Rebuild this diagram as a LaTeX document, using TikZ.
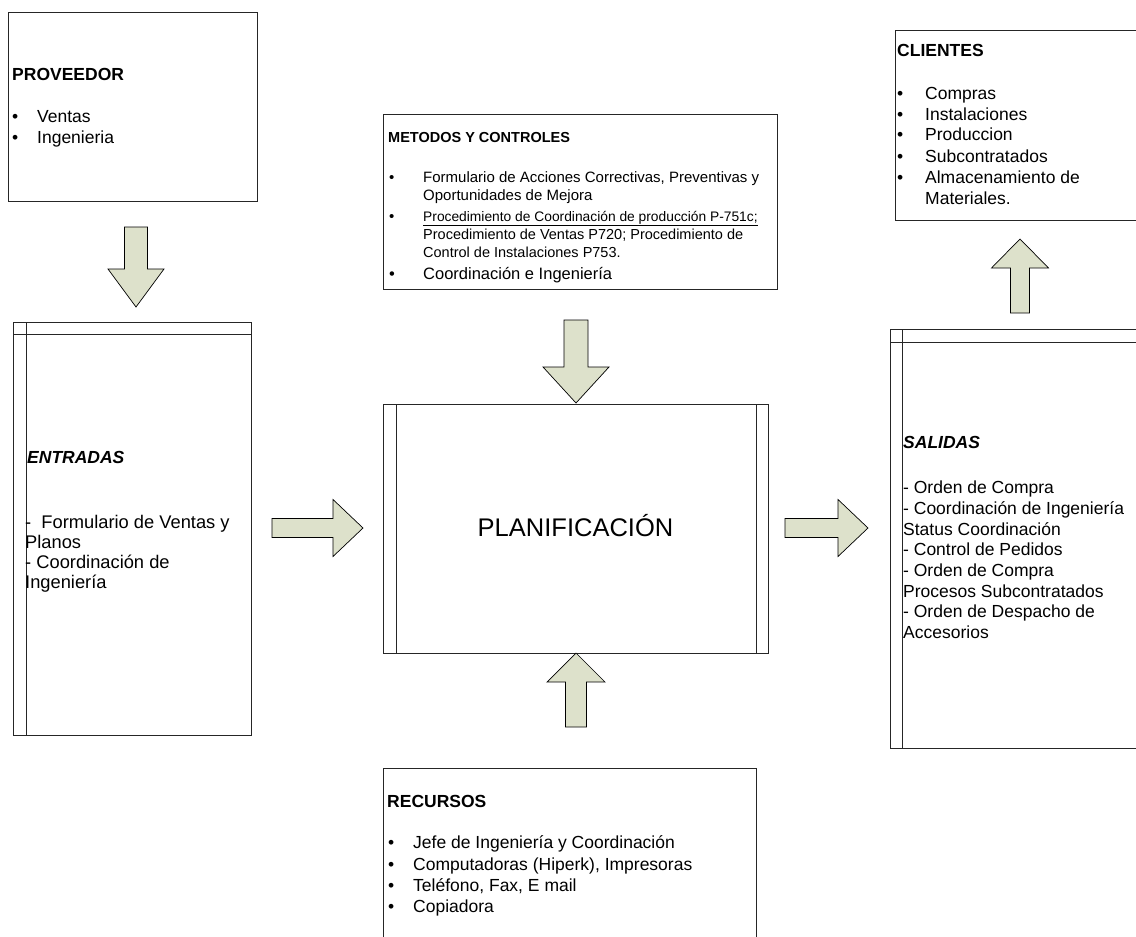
\documentclass[tikz,border=0pt]{standalone}
\usepackage{fontspec}
\setmainfont{Liberation Sans}
\definecolor{arrowfill}{HTML}{DDE1CB}
\tikzset{
  frame/.style={draw=black!85, line width=0.9pt},
  panel/.style={frame, anchor=north west, inner sep=0pt, outer sep=0pt},
  bodyarrow/.style={draw=black, line width=0.7pt, fill=arrowfill, line join=miter},
  textline/.style={anchor=base west, inner sep=0pt, font=\fontsize{17.5}{21}\selectfont},
  bigline/.style={textline, font=\fontsize{18.3}{21}\selectfont},
  smallline/.style={textline, font=\fontsize{15}{17}\selectfont},
  pics/blockarrow/.style n args={4}{code={
    \draw[bodyarrow] (0,-#4) -- ({#1-#2},-#4) -- ({#1-#2},-#3) -- (#1,0)
      -- ({#1-#2},#3) -- ({#1-#2},#4) -- (0,#4) -- cycle;}},
}
\newcommand{\bul}[1]{\makebox[#1][l]{\textbullet}}
\begin{document}
\begin{tikzpicture}[x=1pt,y=-1pt]
\useasboundingbox (0,0) rectangle (1136,937);
\clip (0,0) rectangle (1136,937);

% panels
\node[panel, minimum width=249pt, minimum height=189pt] (prov) at (8,12) {};
\node[panel, minimum width=394pt, minimum height=175pt] (met) at (383,114) {};
\node[panel, minimum width=260pt, minimum height=190pt] (cli) at (895,30) {};
\node[panel, minimum width=238pt, minimum height=413pt] (ent) at (13,322) {};
\node[panel, minimum width=385pt, minimum height=249pt] (plan) at (383,404) {};
\node[panel, minimum width=260pt, minimum height=419pt] (sal) at (890,329) {};
\node[panel, minimum width=373pt, minimum height=200pt] (rec) at (383,768) {};

% inner rules of the process panels
\draw[frame] ([xshift=13pt]ent.north west) -- ([xshift=13pt]ent.south west);
\draw[frame] ([yshift=-12pt]ent.north west) -- ([yshift=-12pt]ent.north east);
\draw[frame] ([xshift=12pt]sal.north west) -- ([xshift=12pt]sal.south west);
\draw[frame] ([yshift=-13pt]sal.north west) -- ([yshift=-13pt]sal.north east);
\draw[frame] ([xshift=13pt]plan.north west) -- ([xshift=13pt]plan.south west);
\draw[frame] ([xshift=-12pt]plan.north east) -- ([xshift=-12pt]plan.south east);

% block arrows
\pic[rotate=-90] at (136,227) {blockarrow={80}{38}{28}{11.5}};
\pic[rotate=-90] at (576,320) {blockarrow={83}{36}{33}{12}};
\pic[rotate=90]  at (576,727) {blockarrow={74}{29}{29}{10.5}};
\pic             at (272,528) {blockarrow={91}{30}{28.5}{9.5}};
\pic             at (785,528) {blockarrow={83}{30}{28.5}{9.5}};
\pic[rotate=90]  at (1020,313) {blockarrow={74}{29}{28.5}{9.5}};

% PROVEEDOR
\node[textline] (p0) at (12,80) {\textbf{PROVEEDOR}};
\node[textline] (p1) at (12,122) {\bul{25pt}Ventas};
\node[textline] (p2) at (12,143) {\bul{25pt}Ingenieria};

% CLIENTES
\node[textline] (c0) at (897,56) {\textbf{CLIENTES}};
\node[textline] (c1) at (897,99) {\bul{28pt}Compras};
\node[textline] (c2) at (897,120) {\bul{28pt}Instalaciones};
\node[textline] (c3) at (897,140) {\bul{28pt}Produccion};
\node[textline] (c4) at (897,162) {\bul{28pt}Subcontratados};
\node[textline] (c5) at (897,183) {\bul{28pt}Almacenamiento de};
\node[textline] (c6) at (925,204) {Materiales.};

% METODOS Y CONTROLES
\node[textline, font=\fontsize{14.5}{17}\selectfont] (m0) at (388,142) {\textbf{METODOS Y CONTROLES}};
\node[smallline] (m1) at (389,182) {\bul{34pt}Formulario de Acciones Correctivas, Preventivas y};
\node[smallline] (m2) at (423,200) {Oportunidades de Mejora};
\node[smallline] (m3) at (389,221) {\bul{34pt}\fontsize{13.8}{17}\selectfont\underline{Procedimiento de Coordinación de producción P-751c;}};
\node[smallline, font=\fontsize{14.5}{17}\selectfont] (m4) at (423,239) {Procedimiento de Ventas P720; Procedimiento de};
\node[smallline, font=\fontsize{14.5}{17}\selectfont] (m5) at (423,257) {Control de Instalaciones P753.};
\node[textline, font=\fontsize{16.5}{20}\selectfont] (m6) at (389,279) {\bul{34pt}Coordinación e Ingeniería};

% ENTRADAS
\node[textline] (e0) at (27,463) {\textbf{\itshape ENTRADAS}};
\node[bigline] (e1) at (25,528) {-\ \ Formulario de Ventas y};
\node[bigline] (e2) at (25,548) {Planos};
\node[bigline] (e3) at (25,568) {- Coordinación de};
\node[bigline] (e4) at (25,588) {Ingeniería};

% PLANIFICACION
\node[anchor=base, inner sep=0pt, font=\fontsize{25.5}{30}\selectfont] (pl) at (575.5,536) {PLANIFICACIÓN};

% SALIDAS
\node[textline] (s0) at (903,448) {\textbf{\itshape SALIDAS}};
\node[textline] (s1) at (903,493) {- Orden de Compra};
\node[textline] (s2) at (903,514) {- Coordinación de Ingeniería};
\node[textline] (s3) at (903,535) {Status Coordinación};
\node[textline] (s4) at (903,555) {- Control de Pedidos};
\node[textline] (s5) at (903,576) {- Orden de Compra};
\node[textline] (s6) at (903,597) {Procesos Subcontratados};
\node[textline] (s7) at (903,617) {- Orden de Despacho de};
\node[textline] (s8) at (903,638) {Accesorios};

% RECURSOS
\node[textline] (r0) at (387,807) {\textbf{RECURSOS}};
\node[textline] (r1) at (388,848) {\bul{25pt}Jefe de Ingeniería y Coordinación};
\node[textline] (r2) at (388,870) {\bul{25pt}Computadoras (Hiperk), Impresoras};
\node[textline] (r3) at (388,891) {\bul{25pt}Teléfono, Fax, E mail};
\node[textline] (r4) at (388,912) {\bul{25pt}Copiadora};
\end{tikzpicture}
\end{document}
